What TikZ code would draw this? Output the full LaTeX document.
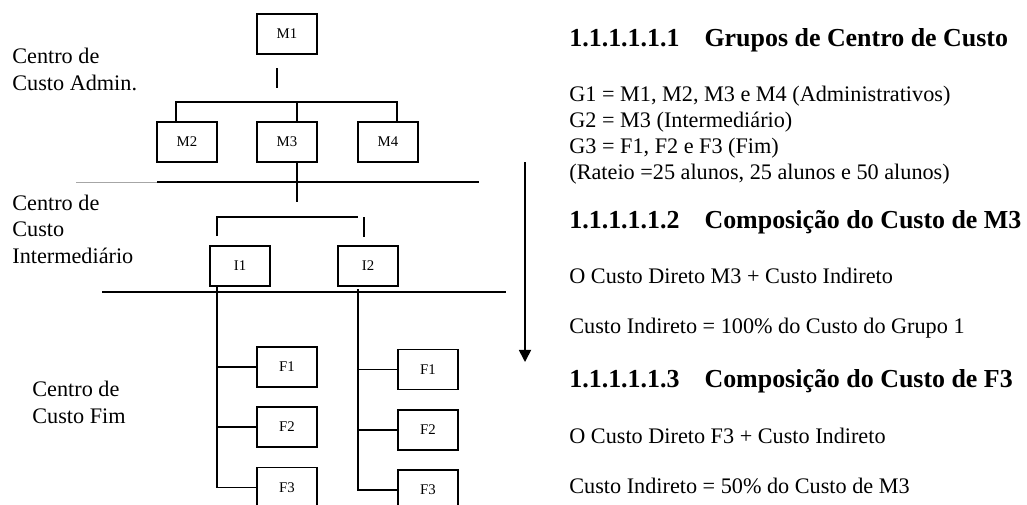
\documentclass[tikz,border=0pt]{standalone}
\usepackage{fontspec}
\setmainfont{Liberation Serif}
\usetikzlibrary{arrows.meta}

\tikzset{
	custbox/.style={draw, line width=0.9pt, minimum width=32.4pt, minimum height=21.6pt, inner sep=0pt, outer sep=0pt, font=\fontsize{8}{9}\selectfont},
	wire/.style={line width=0.9pt},
	sidetext/.style={anchor=base west, align=left, inner sep=0pt, font=\fontsize{12}{14.3}\selectfont},
	bodytext/.style={anchor=base west, align=left, inner sep=0pt, font=\fontsize{12}{14.04}\selectfont},
	headtext/.style={anchor=base west, inner sep=0pt, font=\fontsize{14}{16}\selectfont\bfseries}
}

\begin{document}
\begin{tikzpicture}[x=0.54pt,y=-0.54pt]
	\useasboundingbox (0,0) rectangle (1027,504);
	
	% level names (anchored at the last line)
	\node[sidetext] (cadm) at (12,90) {Centro de\\Custo Admin.};
	\node[sidetext] (cint) at (12,263) {Centro de\\Custo\\Intermediário};
	\node[sidetext] (cfim) at (32,423) {Centro de\\Custo Fim};
	
	% administrative centres
	\node[custbox] (m1) at (287,34) {M1};
	\node[custbox] (m2) at (187,142) {M2};
	\node[custbox] (m3) at (287,142) {M3};
	\node[custbox] (m4) at (388,142) {M4};
	
	\coordinate (m1a) at (277,68);
	\coordinate (m1b) at (277,88);
	\draw[wire] (m1a) -- (m1b);
	
	\coordinate (busl) at (176,102);
	\coordinate (busm) at (297,102);
	\coordinate (busr) at (397,102);
	\draw[wire] (busl |- m2.north) -- (busl) -- (busr) -- (busr |- m4.north);
	\draw[wire] (busm) -- (busm |- m3.north);
	
	\coordinate (m3d) at (297,202);
	\draw[wire] (m3.south -| m3d) -- (m3d);
	
	% separators
	\draw[gray!70, line width=0.5pt] (76,182) -- (157,182);
	\draw[wire] (157,182) -- (479,182);
	\draw[wire] (102,292) -- (506,292);
	
	% intermediate centres
	\coordinate (brl) at (217,217);
	\coordinate (brr) at (358,217);
	\coordinate (brx) at (364,217);
	\draw[wire] (brl) ++(0,19) -- (brl) -- (brr);
	\draw[wire] (brx) -- ++(0,20);
	
	\node[custbox] (i1) at (240,266) {I1};
	\node[custbox] (i2) at (368,266) {I2};
	
	% final centres
	\node[custbox] (fa1) at (287,367) {F1};
	\node[custbox] (fa2) at (287,427) {F2};
	\node[custbox] (fa3) at (287,487.5) {F3};
	
	\node[custbox] (fb1) at (428,369.5) {F1};
	\node[custbox] (fb2) at (428,430) {F2};
	\node[custbox] (fb3) at (428,490) {F3};
	
	\draw[wire] (i1.south -| brl) |- (fa3.west);
	\draw[wire] (fa1.west -| brl) -- (fa1.west);
	\draw[wire] (fa2.west -| brl) -- (fa2.west);
	
	\coordinate (trb) at (358,289);
	\draw[wire] (trb) |- (fb3.west);
	\draw[wire] (fb1.west -| trb) -- (fb1.west);
	\draw[wire] (fb2.west -| trb) -- (fb2.west);
	
	% flow arrow
	\coordinate (flowtop) at (525,162);
	\coordinate (flowend) at (525,362);
	\draw[wire, -{Triangle[width=6.5pt,length=6.5pt]}] (flowtop) -- (flowend);
	
	% notes
	\node[headtext] (h1) at (569,46) {\makebox[73pt][l]{1.1.1.1.1.1}Grupos de Centro de Custo};
	\node[bodytext] (grp) at (569,179) {G1 = M1, M2, M3 e M4 (Administrativos)\\G2 = M3 (Intermediário)\\G3 = F1, F2 e F3 (Fim)\\(Rateio =25 alunos, 25 alunos e 50 alunos)};
	
	\node[headtext] (h2) at (569,228) {\makebox[73pt][l]{1.1.1.1.1.2}Composição do Custo de M3};
	\node[bodytext] (dm3) at (569,283) {O Custo Direto M3 + Custo Indireto};
	\node[bodytext] (im3) at (569,333) {Custo Indireto = 100\% do Custo do Grupo 1};
	
	\node[headtext] (h3) at (569,387) {\makebox[73pt][l]{1.1.1.1.1.3}Composição do Custo de F3};
	\node[bodytext] (df3) at (569,443) {O Custo Direto F3 + Custo Indireto};
	\node[bodytext] (if3) at (569,493) {Custo Indireto = 50\% do Custo de M3};
\end{tikzpicture}
\end{document}
